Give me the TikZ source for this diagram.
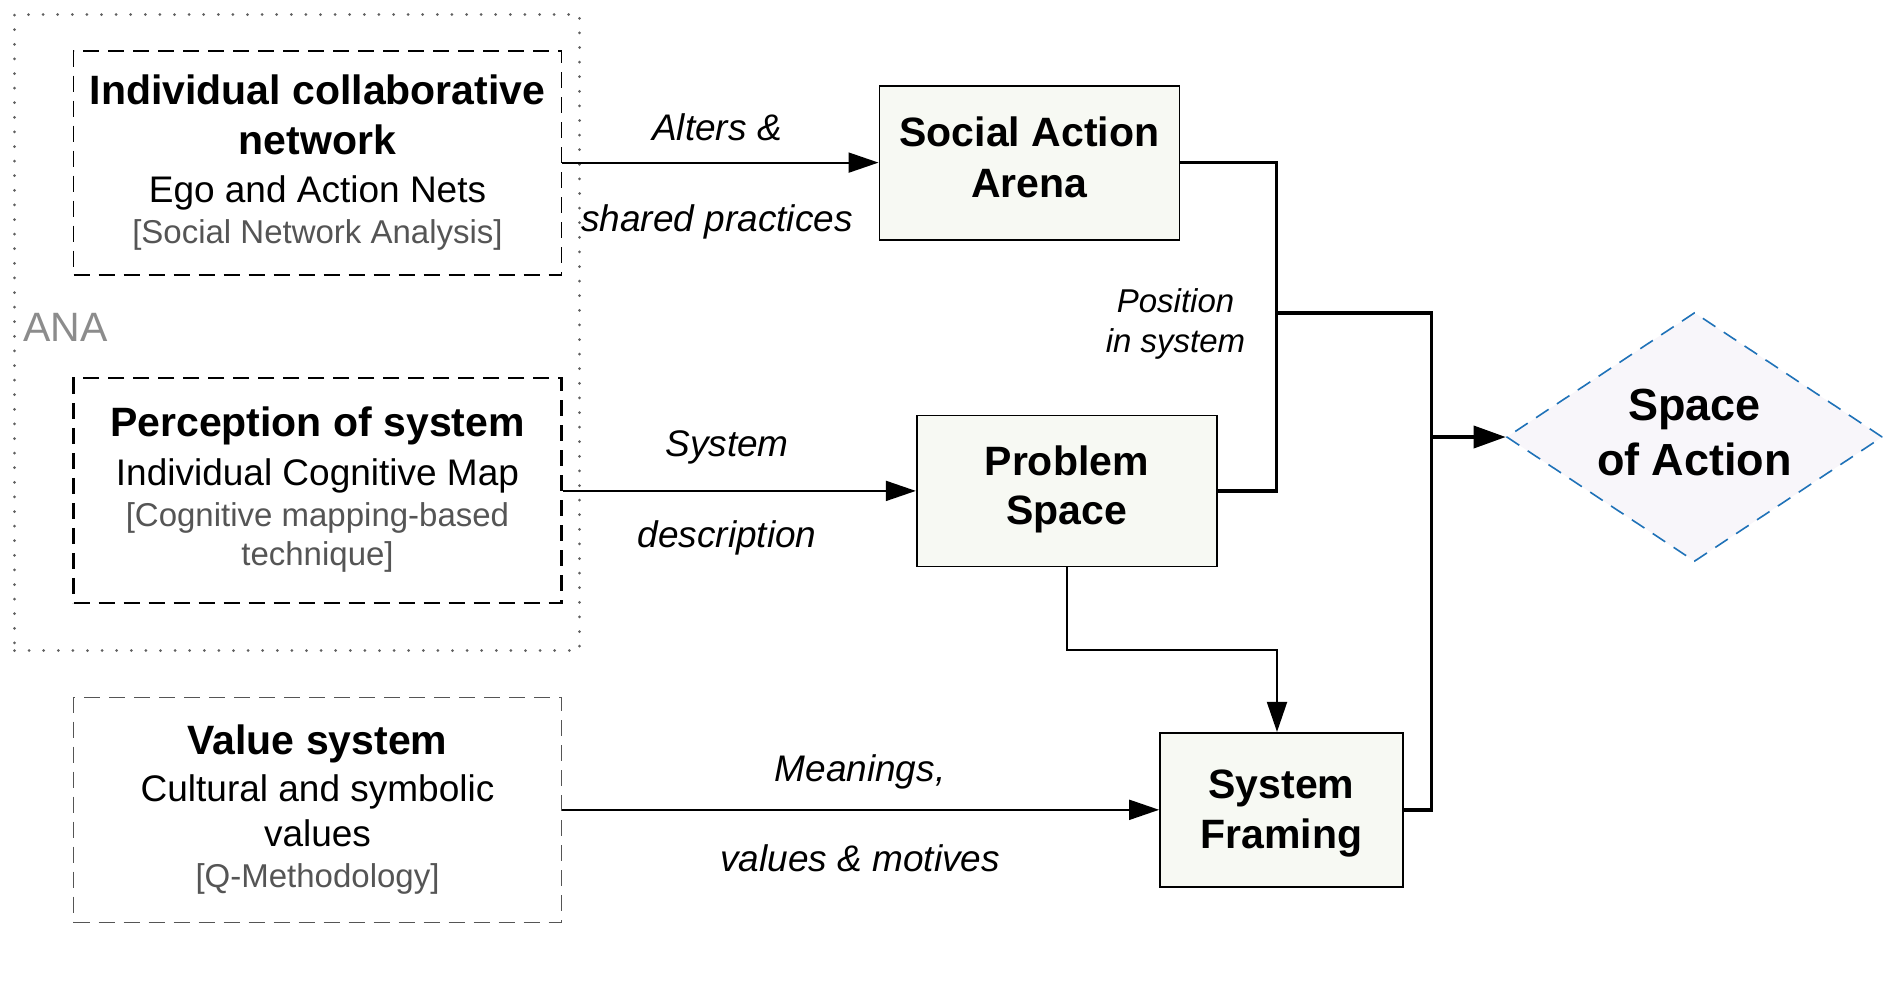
\documentclass[tikz,border=0pt]{standalone}
\usepackage{fontspec}
\setmainfont{Liberation Sans}
\usetikzlibrary{arrows.meta,shapes.geometric,calc}
\definecolor{boxfill}{HTML}{F7F9F3}
\definecolor{diafill}{HTML}{F8F6FA}
\definecolor{diablue}{HTML}{1F72B8}
\definecolor{bracketgrey}{HTML}{555555}
\definecolor{dotgrey}{HTML}{606060}
\definecolor{anagrey}{HTML}{8C8C8C}
\newcommand\myfs[1]{\fontsize{#1}{#1}\selectfont}
\begin{document}
\begin{tikzpicture}[x={(1pt,0pt)},y={(0pt,-1pt)},
  dottedbox/.style={draw=dotgrey, line width=3pt, dash pattern=on 0pt off 14.6pt, line cap=round, inner sep=0pt},
  inbox/.style={draw, inner sep=0pt, minimum width=488pt},
  procbox/.style={draw, line width=1.8pt, fill=boxfill, inner sep=0pt},
  titletxt/.style={anchor=base, inner sep=0pt, font=\myfs{41}\bfseries},
  subtxt/.style={anchor=base, inner sep=0pt, font=\myfs{37}},
  methtxt/.style={anchor=base, inner sep=0pt, font=\myfs{33}, text=bracketgrey},
  edgetxt/.style={anchor=base, inner sep=0pt, font=\myfs{37}\itshape},
  thinarrow/.style={line width=2pt, -{Triangle[length=30pt,width=20pt]}},
  thickline/.style={line width=3.6pt},
  thickarrow/.style={line width=3.6pt, -{Triangle[length=32pt,width=22pt]}}]
\useasboundingbox (0,0) rectangle (1889,997);

% ANA group
\node[dottedbox, minimum width=565pt, minimum height=636pt] (ana) at (297,332.5) {};
\node[anchor=base west, inner sep=0pt, font=\myfs{41}, text=anagrey] (analbl) at (23,341) {ANA};

% input boxes
\node[inbox, line width=1.8pt, dash pattern=on 16pt off 9pt, minimum height=224pt] (b1) at (317.5,162.6) {};
\node[titletxt] (b1a) at (317.5,104.5) {Individual collaborative};
\node[titletxt] (b1b) at (317.5,154.5) {network};
\node[subtxt] (b1c) at (317.5,202) {Ego and Action Nets};
\node[methtxt] (b1d) at (317.5,243) {[Social Network Analysis]};

\node[inbox, line width=2.2pt, dash pattern=on 16pt off 9pt, minimum height=224.5pt] (b2) at (317.5,490.5) {};
\node[titletxt] (b2a) at (317.5,436.5) {Perception of system};
\node[subtxt] (b2b) at (317.5,485.5) {Individual Cognitive Map};
\node[methtxt] (b2c) at (317.5,526.5) {[Cognitive mapping-based};
\node[methtxt] (b2d) at (317.5,565.5) {technique]};

\node[inbox, draw=bracketgrey, line width=1.8pt, dash pattern=on 16pt off 9pt, minimum height=225pt] (b3) at (317.5,810) {};
\node[titletxt] (b3a) at (317.5,754) {Value system};
\node[subtxt] (b3b) at (317.5,801.5) {Cultural and symbolic};
\node[subtxt] (b3c) at (317.5,846.5) {values};
\node[methtxt] (b3d) at (317.5,887) {[Q-Methodology]};

% process boxes
\node[procbox, minimum width=300pt, minimum height=154pt] (saa) at (1029.4,162.6) {};
\node[titletxt] (saaa) at (1029.4,146.5) {Social Action};
\node[titletxt] (saab) at (1029.4,197) {Arena};

\node[procbox, minimum width=300pt, minimum height=151pt] (ps) at (1066.7,490.9) {};
\node[titletxt] (psa) at (1066.7,475) {Problem};
\node[titletxt] (psb) at (1066.7,524.5) {Space};

\node[procbox, minimum width=243pt, minimum height=154pt] (sf) at (1281.5,809.8) {};
\node[titletxt] (sfa) at (1281.5,798) {System};
\node[titletxt] (sfb) at (1281.5,848) {Framing};

% result diamond
\node[diamond, draw=diablue, fill=diafill, line width=1.6pt, dash pattern=on 15pt off 10pt,
      inner sep=0pt, minimum width=376pt, minimum height=249pt] (soa) at (1694.5,437) {};
\node[anchor=base, inner sep=0pt, font=\myfs{45}\bfseries] (soaa) at (1694.5,420.5) {Space};
\node[anchor=base, inner sep=0pt, font=\myfs{45}\bfseries] (soab) at (1694.5,475) {of Action};

% junction coordinates
\coordinate (j1) at (1276.5,313);
\coordinate (j2) at (1431.5,313);
\coordinate (j3) at (1431.5,437);
\coordinate (k1) at (1277,650);

% connectors
\draw[thinarrow] (b1.east) -- (b1.east -| saa.west);
\node[edgetxt] (l1a) at (717,140.5) {Alters \&};
\node[edgetxt] (l1b) at (717,231.5) {shared practices};

\draw[thinarrow] (b2.east |- ps.west) -- (ps.west);
\node[edgetxt] (l2a) at (727,456) {System};
\node[edgetxt] (l2b) at (727,547) {description};

\draw[thinarrow] (b3.east |- sf.west) -- (sf.west);
\node[edgetxt] (l3a) at (860,781.5) {Meanings,};
\node[edgetxt] (l3b) at (860,871.5) {values \& motives};

\draw[thickline] (saa.east) -- (saa.east -| j1) -- (ps.east -| j1) -- (ps.east);
\node[anchor=base, inner sep=0pt, font=\myfs{33}\itshape] (l4a) at (1175.5,312) {Position};
\node[anchor=base, inner sep=0pt, font=\myfs{33}\itshape] (l4b) at (1175.5,352.5) {in system};

\draw[thickline] (j1) -- (j2) -- (sf.east -| j2) -- (sf.east);
\draw[thickarrow] (j3) -- (soa.west);

\draw[thinarrow] (ps.south) |- (k1) -- (k1 |- sf.north);
\end{tikzpicture}
\end{document}
